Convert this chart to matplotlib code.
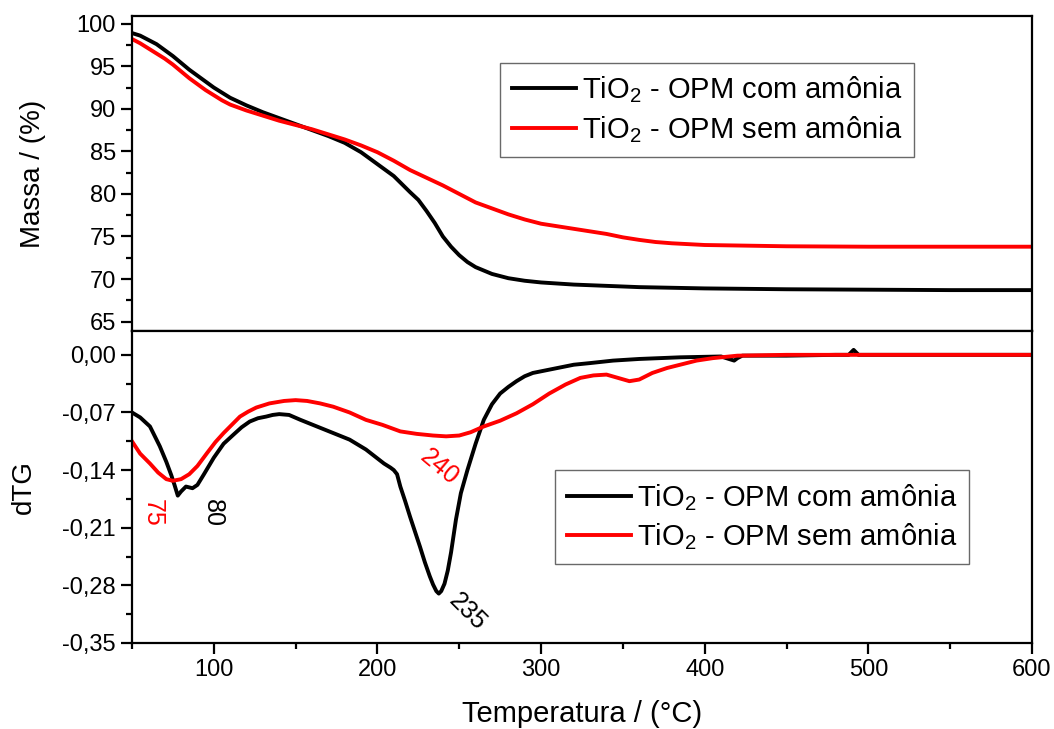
import matplotlib
matplotlib.use("Agg")
import matplotlib.pyplot as plt
from matplotlib.ticker import MultipleLocator

plt.rcParams['font.family'] = ['Liberation Sans', 'DejaVu Sans']
plt.rcParams['mathtext.fontset'] = 'custom'
plt.rcParams['mathtext.rm'] = 'Liberation Sans'
plt.rcParams['mathtext.it'] = 'Liberation Sans:italic'

# TG curves (Massa %)
tg_com_T = [50, 55, 60, 65, 70, 75, 80, 85, 90, 95, 100, 110, 120, 130, 140, 150, 160, 170,
            180, 190, 200, 210, 220, 225, 230, 235, 240, 245, 250, 255, 260, 265, 270, 280,
            290, 300, 320, 340, 360, 400, 450, 500, 550, 600]
tg_com = [98.9, 98.6, 98.1, 97.6, 96.9, 96.2, 95.4, 94.6, 93.9, 93.2, 92.5, 91.3, 90.4,
          89.6, 88.9, 88.2, 87.5, 86.8, 86.0, 84.9, 83.5, 82.1, 80.2, 79.3, 78.0, 76.6,
          75.0, 73.8, 72.8, 72.0, 71.4, 71.0, 70.6, 70.1, 69.8, 69.6, 69.35, 69.2, 69.05,
          68.9, 68.8, 68.75, 68.7, 68.7]

tg_sem_T = [50, 55, 60, 65, 70, 75, 80, 85, 90, 95, 100, 105, 110, 120, 130, 140, 150, 160,
            170, 180, 190, 200, 210, 220, 230, 240, 250, 260, 270, 280, 290, 300, 310, 320,
            330, 340, 350, 360, 370, 380, 400, 450, 500, 600]
tg_sem = [98.2, 97.7, 97.1, 96.5, 95.9, 95.2, 94.4, 93.6, 92.9, 92.2, 91.6, 91.0, 90.5,
          89.8, 89.2, 88.6, 88.1, 87.6, 87.0, 86.4, 85.7, 84.9, 83.9, 82.8, 81.9, 81.0,
          80.0, 79.0, 78.3, 77.6, 77.0, 76.5, 76.2, 75.9, 75.6, 75.3, 74.9, 74.6, 74.35,
          74.2, 74.0, 73.85, 73.8, 73.8]

# dTG curves
dtg_com_T = [50, 55, 61, 67, 71, 74, 76, 78, 80, 83, 87, 90, 94, 100, 106, 112, 117, 122,
             127, 132, 136, 140, 146, 153, 163, 173, 183, 193, 204, 208, 210, 212, 214, 217,
             220, 223, 226, 229, 232, 234, 236, 237.5, 239, 241, 243, 245, 248, 251, 255,
             260, 265, 270, 275, 280, 285, 290, 295, 305, 320, 330, 344, 360, 385, 410, 418,
             420, 423, 450, 480, 488, 491, 494, 520, 560, 600]
dtg_com = [-0.070, -0.076, -0.087, -0.111, -0.130, -0.146, -0.158, -0.171, -0.166, -0.160,
           -0.162, -0.158, -0.145, -0.125, -0.108, -0.097, -0.088, -0.081, -0.077, -0.075,
           -0.073, -0.072, -0.073, -0.079, -0.087, -0.095, -0.103, -0.115, -0.132, -0.137,
           -0.140, -0.145, -0.160, -0.178, -0.197, -0.215, -0.233, -0.252, -0.269, -0.279,
           -0.287, -0.290, -0.287, -0.278, -0.262, -0.240, -0.200, -0.168, -0.140, -0.108,
           -0.079, -0.060, -0.047, -0.039, -0.032, -0.026, -0.022, -0.018, -0.012, -0.010,
           -0.007, -0.005, -0.003, -0.002, -0.007, -0.004, -0.001, -0.001, 0.0, 0.0, 0.006,
           0.0, 0.0, 0.0, 0.0]

dtg_sem_T = [50, 55, 61, 66, 71, 75, 80, 85, 90, 96, 101, 106, 111, 116, 121, 126, 134,
             143, 150, 157, 165, 173, 183, 193, 203, 214, 224, 234, 242, 250, 257, 265,
             275, 285, 295, 305, 315, 324, 332, 340, 347, 354, 360, 368, 377, 385, 395,
             405, 420, 450, 500, 550, 600]
dtg_sem = [-0.105, -0.120, -0.132, -0.143, -0.151, -0.153, -0.151, -0.145, -0.135, -0.119,
           -0.106, -0.095, -0.085, -0.075, -0.069, -0.064, -0.059, -0.056, -0.055, -0.056,
           -0.059, -0.063, -0.070, -0.079, -0.085, -0.093, -0.096, -0.098, -0.099, -0.098,
           -0.094, -0.087, -0.080, -0.071, -0.060, -0.047, -0.036, -0.028, -0.025, -0.024,
           -0.028, -0.032, -0.030, -0.022, -0.016, -0.012, -0.007, -0.004, -0.001, 0.0,
           0.0, 0.0, 0.0]

labels = ['TiO$_2$ - OPM com amônia', 'TiO$_2$ - OPM sem amônia']
dtg_ticks = [0.0, -0.07, -0.14, -0.21, -0.28, -0.35]
dtg_ticklabels = ['0,00', '-0,07', '-0,14', '-0,21', '-0,28', '-0,35']
peaks = [(62.8, -0.192, '75', 'red', -90), (99.5, -0.192, '80', 'black', -90),
         (238, -0.136, '240', 'red', -40), (255, -0.312, '235', 'black', -45)]

fig = plt.figure(figsize=(10.54, 7.29), dpi=100)
ax1 = fig.add_axes([0.1252, 0.546, 0.8539, 0.432])
ax2 = fig.add_axes([0.1252, 0.118, 0.8539, 0.428])

ax1.plot(tg_com_T, tg_com, color='black', lw=2.8, label=labels[0])
ax1.plot(tg_sem_T, tg_sem, color='#ff0000', lw=2.8, label=labels[1])
ax2.plot(dtg_com_T, dtg_com, color='black', lw=2.8, label=labels[0])
ax2.plot(dtg_sem_T, dtg_sem, color='#ff0000', lw=2.8, label=labels[1])

for ax in (ax1, ax2):
    ax.set_xlim(50, 600)
    for s in ax.spines.values():
        s.set_linewidth(1.6)
    ax.tick_params(which='major', direction='out', length=8, width=1.6, labelsize=17,
                   right=False, top=False)
    ax.tick_params(which='minor', direction='out', length=4, width=1.6, right=False, top=False)
    ax.xaxis.set_major_locator(MultipleLocator(100))
    ax.xaxis.set_minor_locator(MultipleLocator(50))

ax1.set_ylim(63.9, 100.9)
ax1.yaxis.set_major_locator(MultipleLocator(5))
ax1.yaxis.set_minor_locator(MultipleLocator(2.5))
ax1.tick_params(axis='x', which='both', bottom=False, labelbottom=False)
ax1.set_ylabel('Massa / (%)', fontsize=20)
ax1.yaxis.set_label_coords(-0.095, 0.5)

ax2.set_ylim(-0.35, 0.029)
ax2.set_yticks(dtg_ticks)
ax2.set_yticklabels(dtg_ticklabels)
ax2.yaxis.set_minor_locator(MultipleLocator(0.035))
ax2.set_ylabel('dTG', fontsize=20)
ax2.yaxis.set_label_coords(-0.106, 0.5)
ax2.set_xlabel('Temperatura / (°C)', fontsize=21, labelpad=14)

for x, y, t, c, r in peaks:
    ax2.text(x, y, t, color=c, fontsize=18, rotation=r, ha='center', va='center')

leg_kw = dict(fontsize=21, frameon=True, fancybox=False, edgecolor='#444444',
              handlelength=2.2, handletextpad=0.2, borderpad=0.4, labelspacing=0.3,
              borderaxespad=0, loc='upper left')
l1 = ax1.legend(bbox_to_anchor=(0.409, 0.851), **leg_kw)
l2 = ax2.legend(bbox_to_anchor=(0.47, 0.554), **leg_kw)
for l in (l1, l2):
    l.get_frame().set_linewidth(1.0)

fig.savefig('out.png', dpi=100)
